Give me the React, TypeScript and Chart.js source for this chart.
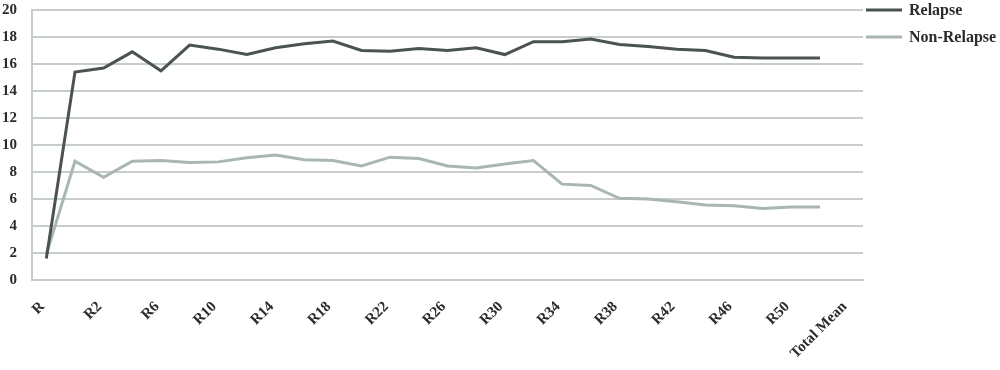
import React, { useEffect, useRef } from "react";
import { Chart, registerables } from "chart.js";

Chart.register(...registerables);

const categories: string[] = [
  "R", "R1", "R2", "R4", "R6", "R8", "R10", "R12", "R14", "R16", "R18", "R20",
  "R22", "R24", "R26", "R28", "R30", "R32", "R34", "R36", "R38", "R40", "R42",
  "R44", "R46", "R48", "R50", "R52", "Total Mean",
];

const relapse: (number | null)[] = [
  1.6, 15.4, 15.7, 16.9, 15.5, 17.4, 17.1, 16.7, 17.2, 17.5, 17.7, 17.0, 16.95,
  17.15, 17.0, 17.2, 16.7, 17.65, 17.65, 17.85, 17.45, 17.3, 17.1, 17.0, 16.5,
  16.45, 16.45, 16.45, null,
];

const nonRelapse: (number | null)[] = [
  1.9, 8.8, 7.6, 8.8, 8.85, 8.7, 8.75, 9.05, 9.25, 8.9, 8.85, 8.45, 9.1, 9.0,
  8.45, 8.3, 8.6, 8.85, 7.1, 7.0, 6.05, 6.0, 5.8, 5.55, 5.5, 5.3, 5.4, 5.4, null,
];

const seriesNames: string[] = ["Relapse", "Non-Relapse"];
const yTicks = { min: 0, max: 20, step: 2 };

const FONT = "'Liberation Serif', 'DejaVu Serif', serif";
const TEXT = "#2b2b2b";

const legendPlugin = {
  id: "sideLegend",
  afterDraw(chart: any) {
    const ctx = chart.ctx;
    const x0 = chart.chartArea.right + 3;
    ctx.save();
    chart.data.datasets.forEach((ds: any, i: number) => {
      const y = chart.chartArea.top + i * 27;
      ctx.strokeStyle = ds.borderColor;
      ctx.lineWidth = 3;
      ctx.beginPath();
      ctx.moveTo(x0, y);
      ctx.lineTo(x0 + 36, y);
      ctx.stroke();
      ctx.fillStyle = TEXT;
      ctx.font = `bold 16px ${FONT}`;
      ctx.textAlign = "left";
      ctx.textBaseline = "middle";
      ctx.fillText(ds.label, x0 + 43, y + 1);
    });
    ctx.restore();
  },
};

export default function App() {
  const ref = useRef<HTMLCanvasElement | null>(null);
  useEffect(() => {
    if (!ref.current) return;
    const chart = new Chart(ref.current, {
      type: "line",
      data: {
        labels: categories,
        datasets: [
          {
            label: seriesNames[0],
            data: relapse,
            borderColor: "#4a5351",
            backgroundColor: "#4a5351",
            borderWidth: 3,
            pointRadius: 0,
            tension: 0,
          },
          {
            label: seriesNames[1],
            data: nonRelapse,
            borderColor: "#a9b6b3",
            backgroundColor: "#a9b6b3",
            borderWidth: 3,
            pointRadius: 0,
            tension: 0,
          },
        ],
      },
      plugins: [legendPlugin],
      options: {
        animation: false,
        responsive: true,
        maintainAspectRatio: false,
        layout: { padding: { top: 10, left: 0, right: 137, bottom: 0 } },
        plugins: {
          tooltip: { enabled: false },
          legend: { display: false },
        },
        scales: {
          x: {
            offset: true,
            grid: { display: false, drawTicks: false },
            border: { display: true, color: "#c6cdcb", width: 2 },
            afterFit: (s: any) => {
              s.height = 90;
              s.paddingLeft = 0;
              s.paddingRight = 0;
            },
            ticks: {
              autoSkip: false,
              maxRotation: 45,
              minRotation: 45,
              padding: 18,
              labelOffset: -4,
              color: TEXT,
              font: { family: FONT, size: 15, weight: "bold" },
              callback: (_v: any, i: number) => (i % 2 === 0 ? categories[i] : ""),
            },
          },
          y: {
            min: yTicks.min,
            max: yTicks.max,
            afterFit: (s: any) => {
              s.width = 32;
              s.paddingTop = 0;
              s.paddingBottom = 0;
            },
            ticks: {
              stepSize: yTicks.step,
              padding: 15,
              color: TEXT,
              font: { family: FONT, size: 15, weight: "bold" },
            },
            grid: { color: "#c6cdcb", lineWidth: 2, drawTicks: false },
            border: { display: true, color: "#c6cdcb", width: 2 },
          },
        },
      },
    });
    return () => chart.destroy();
  }, []);
  return (
    <div style={{ position: "fixed", left: 0, top: 0, width: 1000, height: 370, background: "#fff" }}>
      <canvas ref={ref} />
    </div>
  );
}
